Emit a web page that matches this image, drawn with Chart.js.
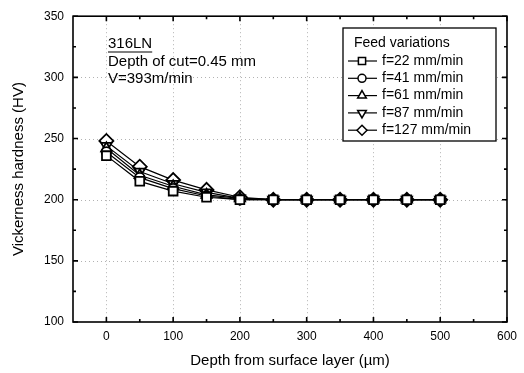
<!DOCTYPE html>
<html>
<head>
<meta charset="utf-8">
<script src="https://cdn.jsdelivr.net/npm/chart.js@4.4.1/dist/chart.umd.min.js"></script>
<style>
  html, body { margin: 0; padding: 0; background: #fff; }
  #wrap { width: 524px; height: 373px; }
</style>
</head>
<body>
<div id="wrap"><canvas id="hardness_chart" width="524" height="373"></canvas></div>
<script>
// depth below the machined surface (µm)
var depths = [0, 50, 100, 150, 200, 250, 300, 350, 400, 450, 500];

// microhardness (HV) for each feed rate
var hv_f22  = [236, 215, 207, 202, 200, 200, 200, 200, 200, 200, 200];
var hv_f41  = [239, 218, 209, 203, 200, 200, 200, 200, 200, 200, 200];
var hv_f61  = [242, 220, 211, 204, 201, 200, 200, 200, 200, 200, 200];
var hv_f87  = [244, 223, 213, 206, 201, 200, 200, 200, 200, 200, 200];
var hv_f127 = [248, 227, 216, 208, 202, 200, 200, 200, 200, 200, 200];

var feedLabels = ['f=22 mm/min', 'f=41 mm/min', 'f=61 mm/min', 'f=87 mm/min', 'f=127 mm/min'];
var xTicks = [0, 100, 200, 300, 400, 500, 600];
var yTicks = [100, 150, 200, 250, 300, 350];

var FONT = '"Liberation Sans", Arial, sans-serif';

var series = [hv_f22, hv_f41, hv_f61, hv_f87, hv_f127];
var markers = [
    { style: 'rect', radius: 6.2, rotation: 0 },
    { style: 'circle', radius: 4.8, rotation: 0 },
    { style: 'triangle', radius: 6, rotation: 0 },
    { style: 'triangle', radius: 6, rotation: 180 },
    { style: 'rectRot', radius: 7, rotation: 0 }
];

function toPoints(values) {
    return depths.map(function (d, i) { return { x: d, y: values[i] }; });
}

var datasets = series.map(function (values, i) {
    return {
        label: feedLabels[i],
        data: toPoints(values),
        showLine: true,
        borderColor: '#000',
        borderWidth: 1.2,
        pointStyle: markers[i].style,
        pointRadius: markers[i].radius,
        pointRotation: markers[i].rotation,
        pointBackgroundColor: '#fff',
        pointBorderColor: '#000',
        pointBorderWidth: 1.8
    };
});

// small legend symbols, same shapes as the plotted points
function drawMarker(ctx, style, r, down, x, y) {
    ctx.beginPath();
    if (style === 'rect') {
        ctx.rect(x - r, y - r, 2 * r, 2 * r);
    } else if (style === 'circle') {
        ctx.arc(x, y, r, 0, Math.PI * 2);
    } else if (style === 'triangle') {
        var dir = down ? -1 : 1;
        var w = r * Math.sqrt(3) / 2;
        ctx.moveTo(x, y - dir * r);
        ctx.lineTo(x + w, y + dir * r / 2);
        ctx.lineTo(x - w, y + dir * r / 2);
        ctx.closePath();
    } else {
        ctx.moveTo(x, y - r);
        ctx.lineTo(x + r, y);
        ctx.lineTo(x, y + r);
        ctx.lineTo(x - r, y);
        ctx.closePath();
    }
    ctx.fillStyle = '#fff';
    ctx.fill();
    ctx.stroke();
}

// dotted grid under the data
const gridPlugin = {
    id: 'dottedGrid',
    beforeDatasetsDraw(chart) {
        const ctx = chart.ctx, a = chart.chartArea;
        const xs = chart.scales.x, ys = chart.scales.y;
        ctx.save();
        ctx.strokeStyle = 'rgba(0,0,0,0.3)';
        ctx.lineWidth = 1;
        ctx.setLineDash([1, 3]);
        [0, 100, 200, 300, 400, 500].forEach(v => {
            const px = Math.round(xs.getPixelForValue(v)) + 0.5;
            ctx.beginPath(); ctx.moveTo(px, a.top); ctx.lineTo(px, a.bottom); ctx.stroke();
        });
        [150, 200, 250, 300].forEach(v => {
            const py = Math.round(ys.getPixelForValue(v)) + 0.5;
            ctx.beginPath(); ctx.moveTo(a.left, py); ctx.lineTo(a.right, py); ctx.stroke();
        });
        ctx.restore();
    }
};

// box, inward ticks, notes and legend
const framePlugin = {
    id: 'frame',
    afterDraw(chart) {
        const ctx = chart.ctx, a = chart.chartArea;
        const xs = chart.scales.x, ys = chart.scales.y;
        ctx.save();
        ctx.strokeStyle = '#000';
        ctx.lineWidth = 1.6;
        ctx.strokeRect(a.left, a.top, a.right - a.left, a.bottom - a.top);

        ctx.lineWidth = 1.6;
        for (let v = 0; v <= 600; v += 50) {
            const px = xs.getPixelForValue(v);
            const len = v % 100 === 0 ? 5 : 3;
            ctx.beginPath();
            ctx.moveTo(px, a.bottom); ctx.lineTo(px, a.bottom - len);
            ctx.moveTo(px, a.top); ctx.lineTo(px, a.top + len);
            ctx.stroke();
        }
        for (let v = 100; v <= 350; v += 25) {
            const py = ys.getPixelForValue(v);
            const len = v % 50 === 0 ? 5 : 3;
            ctx.beginPath();
            ctx.moveTo(a.left, py); ctx.lineTo(a.left + len, py);
            ctx.moveTo(a.right, py); ctx.lineTo(a.right - len, py);
            ctx.stroke();
        }

        // cutting conditions
        ctx.fillStyle = '#000';
        ctx.textBaseline = 'middle';
        ctx.textAlign = 'left';
        ctx.font = '15px ' + FONT;
        ctx.fillText('316LN', 108, 44);
        const w = ctx.measureText('316LN').width;
        ctx.lineWidth = 1.2;
        ctx.beginPath(); ctx.moveTo(108, 52); ctx.lineTo(108 + w, 52); ctx.stroke();
        ctx.fillText('Depth of cut=0.45 mm', 108, 62);
        ctx.fillText('V=393m/min', 108, 79);

        // legend
        const bx = 343, by = 28, bw = 153, bh = 113;
        ctx.fillStyle = '#fff';
        ctx.fillRect(bx, by, bw, bh);
        ctx.lineWidth = 1.3;
        ctx.strokeRect(bx, by, bw, bh);
        ctx.fillStyle = '#000';
        ctx.font = '14px ' + FONT;
        ctx.fillText('Feed variations', bx + 11, by + 15);
        feedLabels.forEach((lab, i) => {
            const y = by + 33 + i * 17.3;
            ctx.lineWidth = 1.2;
            ctx.beginPath(); ctx.moveTo(bx + 5, y); ctx.lineTo(bx + 34, y); ctx.stroke();
            ctx.lineWidth = 1.5;
            const m = markers[i];
            const r = m.style === 'rect' ? 3.6 : (m.style === 'circle' ? 4 : 5);
            drawMarker(ctx, m.style, r, m.rotation === 180, bx + 19, y);
            ctx.fillStyle = '#000';
            ctx.fillText(lab, bx + 39, y);
        });
        ctx.restore();
    }
};

var ctx = document.getElementById('hardness_chart');
var hardnessChart = new Chart(ctx, {
    type: 'scatter',
    data: { datasets: datasets },
    options: {
        responsive: false,
        animation: false,
        layout: { padding: { top: 12, right: 12, left: 0, bottom: 0 } },
        plugins: {
            legend: { display: false },
            tooltip: { enabled: false }
        },
        scales: {
            x: {
                type: 'linear',
                min: -50,
                max: 600,
                afterFit: function (scale) { scale.height = 51; },
                afterBuildTicks: function (scale) {
                    scale.ticks = xTicks.map(v => ({ value: v }));
                },
                grid: { display: false, drawTicks: false },
                border: { display: false },
                ticks: { color: '#000', font: { family: FONT, size: 12 }, padding: 7, maxRotation: 0 },
                title: {
                    display: true,
                    text: 'Depth from surface layer (µm)',
                    color: '#000',
                    font: { family: FONT, size: 15 },
                    padding: { top: 4, bottom: 3 }
                }
            },
            y: {
                min: 100,
                max: 350,
                afterFit: function (scale) { scale.width = 73; },
                afterBuildTicks: function (scale) {
                    scale.ticks = yTicks.map(v => ({ value: v }));
                },
                grid: { display: false, drawTicks: false },
                border: { display: false },
                ticks: { color: '#000', font: { family: FONT, size: 12 }, padding: 9 },
                title: {
                    display: true,
                    text: 'Vickerness hardness (HV)',
                    color: '#000',
                    font: { family: FONT, size: 15 },
                    padding: { top: 10, bottom: 0 }
                }
            }
        }
    },
    plugins: [gridPlugin, framePlugin]
});
window.myChart = hardnessChart;
</script>
</body>
</html>
